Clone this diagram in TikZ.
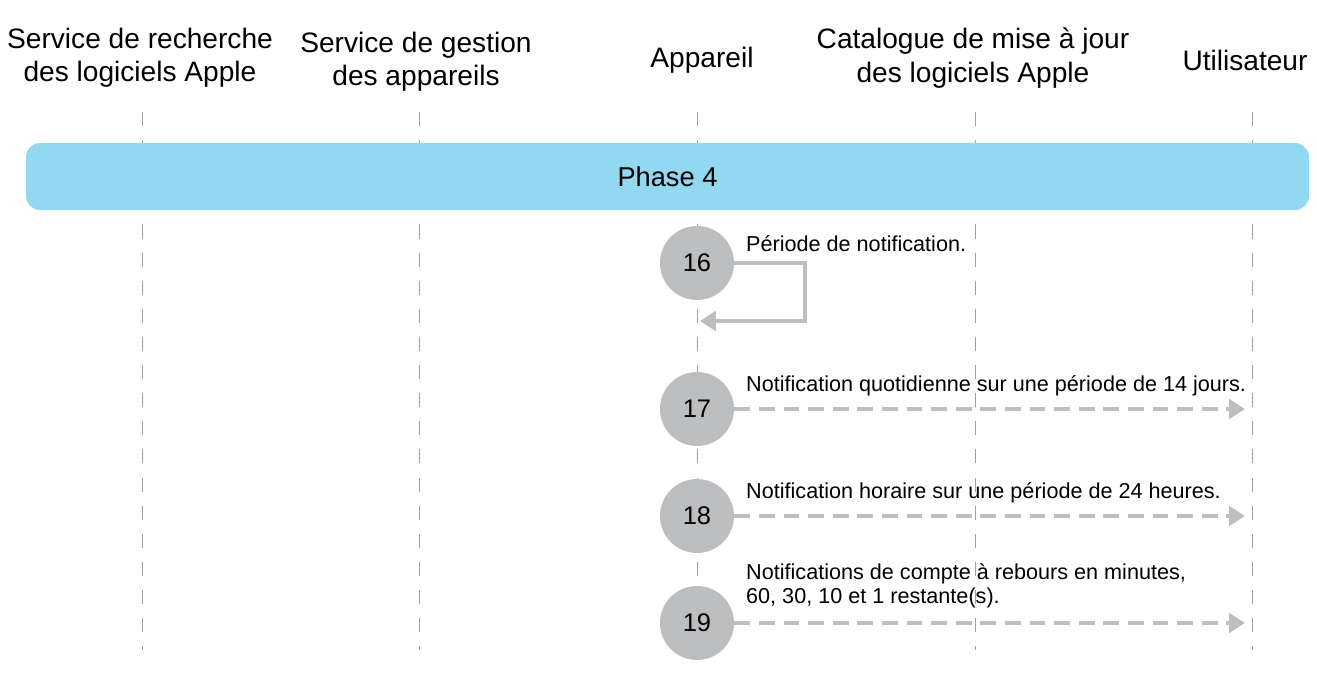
\documentclass[tikz,border=0pt]{standalone}
\usepackage{fontspec}
\setmainfont{Liberation Sans}
\usetikzlibrary{arrows.meta}
\usetikzlibrary{positioning}
\definecolor{phaseblue}{HTML}{91D8F0}
\definecolor{stepgray}{HTML}{BDBEC0}
\definecolor{lifegray}{HTML}{A0A0A0}
\tikzset{head/.style={align=center,font=\fontsize{16}{19}\selectfont}}
\tikzset{life/.style={draw=lifegray,dashed,dash pattern=on 8pt off 8pt,thin}}
\tikzset{stepnum/.style={circle,fill=stepgray,minimum size=2.96cm/2,inner sep=0pt,font=\fontsize{14.5}{17}\selectfont}}
\tikzset{msg/.style={anchor=west,align=left,font=\fontsize{12.3}{13.5}\selectfont}}
\tikzset{flow/.style={draw=stepgray,line width=2.2pt,-{Triangle[length=9pt,width=11pt]}}}

\begin{document}
\begin{tikzpicture}
    \useasboundingbox (0,0) rectangle (26.34,-13.46);
    % participants
    \node[head] (srv) at (2.8,-1.16) {Service de recherche\\des logiciels Apple};
    \node[head] (mdm) at (8.32,-1.24) {Service de gestion\\des appareils};
    \node[head] (dev) at (14.04,-1.2) {Appareil};
    \node[head] (cat) at (19.46,-1.16) {Catalogue de mise à jour\\des logiciels Apple};
    \node[head] (usr) at (24.9,-1.2) {Utilisateur};
    % lifelines
    \foreach \n/\x in {a/2.84,b/8.38,c/13.94,d/19.5,e/25.04} {
        \coordinate (top\n) at (\x,-2.24);
        \coordinate (bot\n) at (\x,-13.0);
        \draw[life] (top\n) -- (bot\n);
    }
    % phase
    \node[fill=phaseblue,rounded corners=8pt,minimum width=25.66cm,minimum height=1.34cm,
        font=\fontsize{15.5}{18}\selectfont] (phase) at (13.35,-3.53) {Phase 4};
    % steps
    \node[stepnum] (s16) at (13.94,-5.26) {16};
    \node[stepnum] (s17) at (13.94,-8.18) {17};
    \node[stepnum] (s18) at (13.94,-10.32) {18};
    \node[stepnum] (s19) at (13.94,-12.46) {19};
    \node[msg] (t16) at (14.8,-4.88) {Période de notification.};
    \node[msg] (t17) at (14.8,-7.72) {Notification quotidienne sur une période de 14 jours.};
    \node[msg] (t18) at (14.8,-9.86) {Notification horaire sur une période de 24 heures.};
    \node[msg] (t19) at (14.8,-11.72) {Notifications de compte à rebours en minutes,\\60, 30, 10 et 1 restante(s).};
    \coordinate (back16) at (14.0,-6.42);
    \coordinate (u17) at (24.9,-8.18);
    \coordinate (u18) at (24.9,-10.32);
    \coordinate (u19) at (24.9,-12.46);
    \draw[flow] (s16.east) -| (16.1,-6.42) -- (back16);
    \draw[flow,dashed,dash pattern=on 9pt off 5pt] (s17) -- (u17);
    \draw[flow,dashed,dash pattern=on 9pt off 5pt] (s18) -- (u18);
    \draw[flow,dashed,dash pattern=on 9pt off 5pt] (s19) -- (u19);
\end{tikzpicture}
\end{document}
